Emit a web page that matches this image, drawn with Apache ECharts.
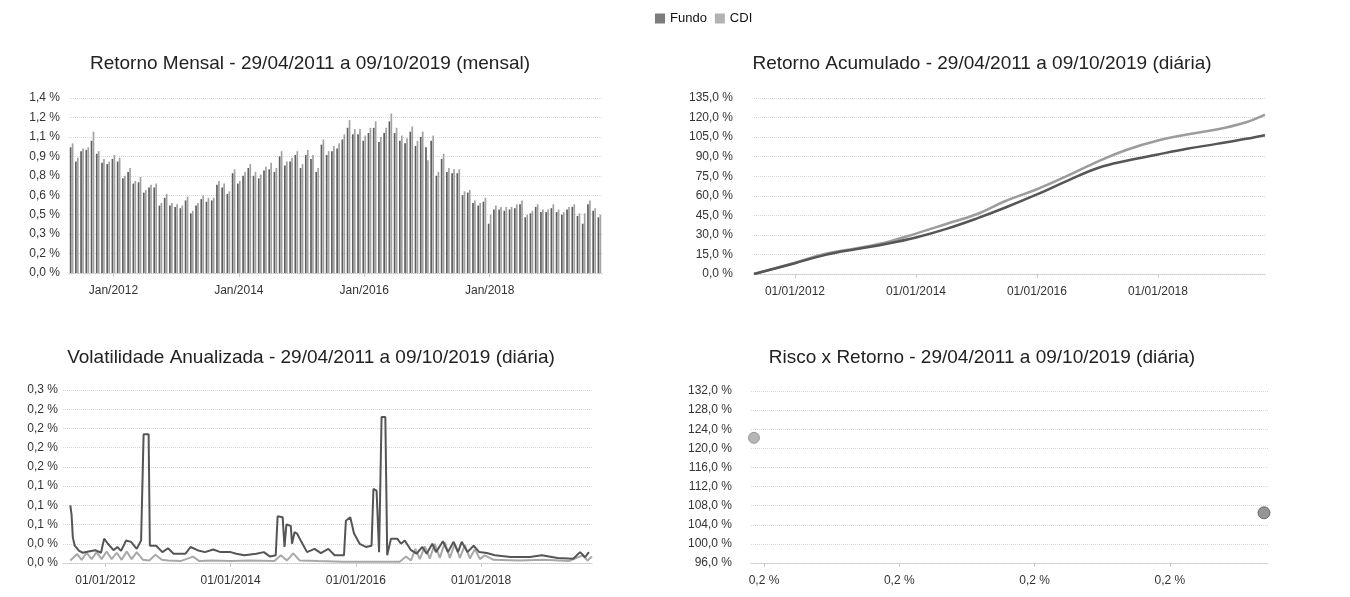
<!DOCTYPE html>
<html><head><meta charset="utf-8">
<script src="https://cdn.jsdelivr.net/npm/echarts@6/dist/echarts.min.js"></script>
<style>html,body{margin:0;padding:0;background:#fff}#c{width:1350px;height:597px}</style>
</head><body><div id="c"></div>
<script>
// ---------- DATA ----------
const barCategories = [
 'Mai/2011','Jun/2011','Jul/2011','Ago/2011','Set/2011','Out/2011','Nov/2011','Dez/2011',
 'Jan/2012','Fev/2012','Mar/2012','Abr/2012','Mai/2012','Jun/2012','Jul/2012','Ago/2012','Set/2012','Out/2012','Nov/2012','Dez/2012',
 'Jan/2013','Fev/2013','Mar/2013','Abr/2013','Mai/2013','Jun/2013','Jul/2013','Ago/2013','Set/2013','Out/2013','Nov/2013','Dez/2013',
 'Jan/2014','Fev/2014','Mar/2014','Abr/2014','Mai/2014','Jun/2014','Jul/2014','Ago/2014','Set/2014','Out/2014','Nov/2014','Dez/2014',
 'Jan/2015','Fev/2015','Mar/2015','Abr/2015','Mai/2015','Jun/2015','Jul/2015','Ago/2015','Set/2015','Out/2015','Nov/2015','Dez/2015',
 'Jan/2016','Fev/2016','Mar/2016','Abr/2016','Mai/2016','Jun/2016','Jul/2016','Ago/2016','Set/2016','Out/2016','Nov/2016','Dez/2016',
 'Jan/2017','Fev/2017','Mar/2017','Abr/2017','Mai/2017','Jun/2017','Jul/2017','Ago/2017','Set/2017','Out/2017','Nov/2017','Dez/2017',
 'Jan/2018','Fev/2018','Mar/2018','Abr/2018','Mai/2018','Jun/2018','Jul/2018','Ago/2018','Set/2018','Out/2018','Nov/2018','Dez/2018',
 'Jan/2019','Fev/2019','Mar/2019','Abr/2019','Mai/2019','Jun/2019','Jul/2019','Ago/2019','Set/2019','Out/2019'
];
const barTickLabels = ['Jan/2012','Jan/2014','Jan/2016','Jan/2018'];

const cdiMensal = [
 1.00,0.89,0.96,0.97,1.09,0.94,0.88,0.86,
 0.91,0.89,0.75,0.81,0.71,0.74,0.64,0.68,0.69,0.54,0.61,0.54,
 0.53,0.52,0.59,0.48,0.54,0.60,0.58,0.58,0.71,0.69,0.63,0.80,
 0.71,0.78,0.84,0.78,0.76,0.82,0.85,0.81,0.94,0.86,0.89,0.94,
 0.84,0.95,0.91,0.81,1.03,0.94,0.98,1.00,1.07,1.18,1.11,1.11,
 1.06,1.12,1.17,1.05,1.12,1.23,1.12,1.06,1.04,1.13,1.02,1.09,
 0.87,1.06,0.78,0.92,0.81,0.80,0.80,0.63,0.64,0.56,0.54,0.58,
 0.45,0.52,0.51,0.51,0.51,0.53,0.56,0.45,0.48,0.53,0.49,0.49,
 0.53,0.49,0.47,0.51,0.53,0.46,0.46,0.56,0.50,0.45
];
const fundoMensal = [
 0.97,0.86,0.94,0.95,1.02,0.92,0.85,0.84,
 0.88,0.86,0.73,0.78,0.69,0.70,0.62,0.66,0.66,0.52,0.58,0.52,
 0.51,0.50,0.56,0.46,0.52,0.57,0.55,0.56,0.68,0.66,0.61,0.77,
 0.69,0.75,0.81,0.75,0.73,0.79,0.80,0.78,0.90,0.83,0.86,0.91,
 0.81,0.91,0.88,0.78,0.99,0.91,0.94,0.96,1.03,1.12,1.07,1.07,
 1.02,1.08,1.12,1.01,1.08,1.17,1.08,1.02,1.00,1.09,0.98,1.05,
 0.97,1.02,0.75,0.88,0.78,0.77,0.77,0.60,0.62,0.54,0.52,0.55,
 0.38,0.49,0.49,0.48,0.49,0.50,0.53,0.43,0.46,0.51,0.47,0.47,
 0.50,0.47,0.45,0.49,0.51,0.44,0.38,0.53,0.48,0.43
];

// cumulative return (time in decimal years)
const acumT     = [2011.323,2012.0,2012.49,2013.0,2013.5,2014.0,2014.49,2015.0,2015.48,2016.0,2016.49,2017.02,2017.5,2018.0,2018.48,2018.97,2019.46,2019.77];
const acumCDI   = [0.0,8.6,15.3,19.6,24.2,31.0,38.2,45.8,56.0,65.0,75.0,86.6,95.5,102.4,107.0,110.8,116.4,122.2];
const acumFundo = [0.0,8.3,14.5,19.0,23.0,28.0,34.4,42.5,51.0,61.0,71.3,81.5,87.0,91.7,96.0,99.8,103.7,106.5];
const dateTicks = [2012,2014,2016,2018];

// volatility
const volFundoT = [2011.44,2011.46,2011.48,2011.51,2011.58,2011.64,2011.73,2011.84,2011.93,2011.98,2012.04,2012.13,2012.19,2012.25,2012.33,2012.41,2012.50,2012.57,2012.61,2012.69,2012.71,2012.81,2012.91,2013.00,2013.09,2013.28,2013.36,2013.47,2013.59,2013.72,2013.84,2014.00,2014.09,2014.22,2014.41,2014.53,2014.63,2014.72,2014.75,2014.83,2014.86,2014.89,2014.96,2014.98,2015.02,2015.06,2015.13,2015.22,2015.34,2015.44,2015.56,2015.66,2015.81,2015.84,2015.91,2015.97,2016.06,2016.16,2016.25,2016.28,2016.33,2016.37,2016.41,2016.47,2016.50,2016.56,2016.66,2016.72,2016.78,2016.88,2016.97,2017.06,2017.13,2017.22,2017.28,2017.39,2017.47,2017.56,2017.63,2017.69,2017.78,2017.88,2017.97,2018.09,2018.22,2018.47,2018.78,2018.97,2019.22,2019.47,2019.58,2019.66,2019.72];
const volFundo  = [0.090,0.075,0.040,0.027,0.019,0.016,0.018,0.020,0.016,0.038,0.030,0.020,0.025,0.019,0.035,0.033,0.022,0.035,0.201,0.201,0.027,0.027,0.017,0.023,0.0145,0.0145,0.025,0.020,0.017,0.021,0.017,0.017,0.0145,0.012,0.0145,0.017,0.010,0.012,0.073,0.0715,0.025,0.060,0.058,0.030,0.048,0.046,0.033,0.017,0.022,0.0155,0.022,0.012,0.012,0.066,0.0715,0.046,0.030,0.025,0.027,0.1155,0.113,0.017,0.228,0.228,0.012,0.038,0.038,0.030,0.035,0.020,0.0145,0.025,0.0145,0.030,0.017,0.034,0.017,0.033,0.017,0.033,0.017,0.027,0.017,0.0155,0.012,0.0093,0.0093,0.012,0.0078,0.0067,0.017,0.009,0.017];
const volCDIT   = [2011.44,2011.55,2011.62,2011.70,2011.78,2011.86,2011.94,2012.02,2012.10,2012.18,2012.26,2012.34,2012.42,2012.50,2012.60,2012.70,2012.80,2012.90,2013.00,2013.20,2013.40,2013.50,2013.70,2014.00,2014.30,2014.70,2014.80,2014.90,2015.00,2015.10,2015.40,2015.80,2016.30,2016.70,2016.80,2016.88,2016.95,2017.02,2017.10,2017.18,2017.26,2017.34,2017.42,2017.50,2017.58,2017.66,2017.74,2017.82,2017.90,2017.98,2018.06,2018.20,2018.60,2019.00,2019.40,2019.62,2019.70,2019.77];
const volCDI    = [0.004,0.014,0.005,0.016,0.006,0.017,0.006,0.018,0.006,0.016,0.005,0.018,0.006,0.017,0.005,0.004,0.013,0.005,0.004,0.003,0.010,0.003,0.004,0.003,0.004,0.003,0.012,0.004,0.015,0.004,0.003,0.002,0.002,0.002,0.010,0.004,0.022,0.006,0.026,0.007,0.030,0.008,0.032,0.008,0.030,0.008,0.028,0.007,0.022,0.006,0.012,0.005,0.004,0.005,0.003,0.012,0.004,0.010];

// risk x return  [volatility %, return %]
const riscoFundo = [0.22696, 106.5];
const riscoCDI   = [0.18926, 122.2];
const riscoTicks = [0.19, 0.20, 0.21, 0.22];

// ---------- HELPERS ----------
const pct1 = v => (Math.round(v * 10 + 1e-9) / 10).toFixed(1).replace('.', ',') + ' %';
const pctF = v => v.toFixed(1).replace('.', ',') + ' %';
const zip = (a, b) => a.map((x, i) => [x, b[i]]);

const FONT = 'Liberation Sans, Arial, sans-serif';
const txt = '#333';
const gridLine = { show: true, lineStyle: { color: '#d8d8d8', type: 'dotted', width: 1 } };
const xLine = { show: true, lineStyle: { color: '#c8c8c8', type: 'dotted' } };
const lblY = (f, m) => ({ formatter: f, fontSize: 12, color: txt, fontFamily: FONT, margin: m });
const dateAxis = (gi) => ({
  gridIndex: gi, type: 'value', min: 2011.323, max: 2019.77,
  axisLine: xLine, splitLine: { show: false },
  axisTick: { show: true, customValues: dateTicks, length: 4, lineStyle: { color: '#ccc' } },
  axisLabel: { customValues: dateTicks, formatter: v => '01/01/' + Math.round(v), fontSize: 12, color: txt, fontFamily: FONT, margin: 12 }
});

const C_FUNDO = '#5e5e5e', C_CDI = '#a2a2a2';

const option = {
  animation: false,
  backgroundColor: '#fff',
  textStyle: { fontFamily: FONT },
  legend: {
    top: 12, left: 655, padding: 0, itemWidth: 10, itemHeight: 10, itemGap: 8, icon: 'rect',
    textStyle: { fontSize: 13, color: '#111', fontFamily: FONT },
    data: [{ name: 'Fundo', itemStyle: { color: '#7c7c7c' } }, { name: 'CDI', itemStyle: { color: '#b2b2b2' } }]
  },
  title: [
    { text: 'Retorno Mensal - 29/04/2011 a 09/10/2019 (mensal)', left: 310, top: 54, textAlign: 'center' },
    { text: 'Retorno Acumulado - 29/04/2011 a 09/10/2019 (diária)', left: 982, top: 54, textAlign: 'center' },
    { text: 'Volatilidade Anualizada - 29/04/2011 a 09/10/2019 (diária)', left: 311, top: 348, textAlign: 'center' },
    { text: 'Risco x Retorno - 29/04/2011 a 09/10/2019 (diária)', left: 982, top: 348, textAlign: 'center' }
  ].map(t => Object.assign(t, { padding: 0, textStyle: { fontSize: 19, fontWeight: 'normal', color: '#222', fontFamily: FONT } })),
  grid: [
    { left: 69, top: 98, width: 533, height: 175 },
    { left: 754, top: 98, width: 511, height: 176 },
    { left: 63, top: 390, width: 529, height: 173 },
    { left: 751, top: 391, width: 518, height: 172 }
  ],
  xAxis: [
    { gridIndex: 0, type: 'category', data: barCategories,
      axisLine: xLine, splitLine: { show: false },
      axisTick: { show: true, alignWithLabel: true, interval: (i, v) => barTickLabels.includes(v), length: 4, lineStyle: { color: '#ccc' } },
      axisLabel: { interval: (i, v) => barTickLabels.includes(v), fontSize: 12, color: txt, fontFamily: FONT, margin: 12 } },
    dateAxis(1),
    dateAxis(2),
    { gridIndex: 3, type: 'value', min: 0.18904, max: 0.22733,
      axisLine: xLine, splitLine: { show: false },
      axisTick: { show: true, customValues: riscoTicks, length: 4, lineStyle: { color: '#ccc' } },
      axisLabel: { customValues: riscoTicks, formatter: pct1, fontSize: 12, color: txt, fontFamily: FONT, margin: 12 } }
  ],
  yAxis: [
    { gridIndex: 0, type: 'value', min: 0, max: 1.35, interval: 0.15, axisLabel: lblY(pct1, 9), splitLine: gridLine, axisLine: { show: false }, axisTick: { show: false } },
    { gridIndex: 1, type: 'value', min: 0, max: 135, interval: 15, axisLabel: lblY(pctF, 21), splitLine: gridLine, axisLine: { show: false }, axisTick: { show: false } },
    { gridIndex: 2, type: 'value', min: 0, max: 0.27, interval: 0.03, axisLabel: lblY(pct1, 5), splitLine: gridLine, axisLine: { show: false }, axisTick: { show: false } },
    { gridIndex: 3, type: 'value', min: 96, max: 132, interval: 4, axisLabel: lblY(pctF, 19), splitLine: gridLine, axisLine: { show: false }, axisTick: { show: false } }
  ],
  series: [
    { name: 'Fundo', type: 'bar', xAxisIndex: 0, yAxisIndex: 0, data: fundoMensal, itemStyle: { color: C_FUNDO }, barGap: '15%', barCategoryGap: '30%' },
    { name: 'CDI', type: 'bar', xAxisIndex: 0, yAxisIndex: 0, data: cdiMensal, itemStyle: { color: C_CDI } },
    { name: 'CDI', type: 'line', xAxisIndex: 1, yAxisIndex: 1, data: zip(acumT, acumCDI), smooth: 0.4, showSymbol: false, lineStyle: { color: '#9c9c9c', width: 2.5 }, itemStyle: { color: '#9c9c9c' } },
    { name: 'Fundo', type: 'line', xAxisIndex: 1, yAxisIndex: 1, data: zip(acumT, acumFundo), smooth: 0.4, showSymbol: false, lineStyle: { color: '#555', width: 2.5 }, itemStyle: { color: '#555' } },
    { name: 'CDI', type: 'line', xAxisIndex: 2, yAxisIndex: 2, data: zip(volCDIT, volCDI), showSymbol: false, lineStyle: { color: '#a8a8a8', width: 2 }, itemStyle: { color: '#a8a8a8' } },
    { name: 'Fundo', type: 'line', xAxisIndex: 2, yAxisIndex: 2, data: zip(volFundoT, volFundo), showSymbol: false, lineStyle: { color: '#555', width: 2 }, itemStyle: { color: '#555' } },
    { name: 'CDI', type: 'scatter', xAxisIndex: 3, yAxisIndex: 3, data: [riscoCDI], symbolSize: 11, itemStyle: { color: '#a4a4a4', borderColor: '#888', borderWidth: 1 } },
    { name: 'Fundo', type: 'scatter', xAxisIndex: 3, yAxisIndex: 3, data: [riscoFundo], symbolSize: 12, itemStyle: { color: '#7a7a7a', borderColor: '#555', borderWidth: 1 } }
  ]
};
echarts.init(document.getElementById('c'), null, { renderer: 'canvas' }).setOption(option);
</script></body></html>
